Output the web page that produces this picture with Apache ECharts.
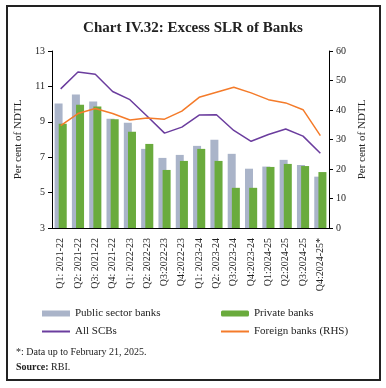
<!DOCTYPE html>
<html><head><meta charset="utf-8">
<script src="https://cdn.jsdelivr.net/npm/echarts@6/dist/echarts.min.js"></script>
<style>html,body{margin:0;padding:0;background:#fff}#c{width:386px;height:388px}</style>
</head><body><div id="c"></div>
<script>
const categories = ["Q1: 2021-22","Q2: 2021-22","Q3: 2021-22","Q4: 2021-22","Q1: 2022-23","Q2: 2022-23","Q3:2022-23","Q4:2022-23","Q1: 2023-24","Q2: 2023-24","Q3:2023-24","Q4:2023-24","Q1:2024-25","Q2:2024-25","Q3:2024-25","Q4:2024-25*"];
const publicSector = [10.03,10.54,10.14,9.17,8.95,7.47,6.96,7.13,7.64,7.98,7.19,6.35,6.47,6.85,6.56,5.9];
const privateBanks = [8.89,9.97,9.86,9.14,8.44,7.75,6.28,6.79,7.47,6.79,5.27,5.27,6.45,6.62,6.5,6.16];
const allSCBs = [10.86,11.81,11.69,10.71,10.25,9.31,8.36,8.7,9.38,9.4,8.51,7.9,8.28,8.59,8.19,7.22];
const foreignBanks = [34.7,38.8,40.5,38.8,36.6,37.3,36.9,39.6,44.3,46.0,47.7,45.8,43.5,42.4,40.1,31.3];
const leftTicks = {min:3,max:13,interval:2};
const rightTicks = {min:0,max:60,interval:10};

const F = '"Liberation Serif", "DejaVu Serif", serif';
const chart = echarts.init(document.getElementById('c'));
const txt = {fontFamily:F,fontSize:11,color:'#222'};
function leg(name, left, top, icon, h){
  return {data:[{name, icon}], left, top, padding:0, itemWidth:28, itemHeight:h, itemGap:4, textStyle:Object.assign({},txt,{fontSize:11}), selectedMode:false};
}
chart.setOption({
  animation:false,
  title:{text:'Chart IV.32: Excess SLR of Banks',left:'center',top:16,textStyle:{fontFamily:F,fontSize:15,fontWeight:'bold',color:'#222'}},
  legend:[
    leg('Public sector banks',42,308,'rect',6),
    leg('Private banks',221,308,'roundRect',6),
    leg('All SCBs',42,326,'rect',2),
    leg('Foreign banks (RHS)',221,326,'rect',2)
  ],
  grid:{left:52,right:57,top:51,bottom:160},
  xAxis:{type:'category',data:categories,
    axisLine:{lineStyle:{color:'#000',width:1}},
    axisTick:{lineStyle:{color:'#000'},length:4},
    axisLabel:{rotate:90,fontFamily:F,fontSize:10,color:'#222',margin:10,interval:0}},
  yAxis:[
    {type:'value',min:leftTicks.min,max:leftTicks.max,interval:leftTicks.interval,
     name:'Per cent of NDTL',nameLocation:'middle',nameGap:24,nameTextStyle:{fontFamily:F,fontSize:11,color:'#222'},
     axisLine:{show:true,lineStyle:{color:'#000'}},axisTick:{show:true,length:4,lineStyle:{color:'#000'}},
     splitLine:{show:false},axisLabel:{fontFamily:F,fontSize:10,color:'#222',margin:7}},
    {type:'value',min:rightTicks.min,max:rightTicks.max,interval:rightTicks.interval,position:'right',
     name:'Per cent of NDTL',nameLocation:'middle',nameGap:24,nameRotate:90,nameTextStyle:{fontFamily:F,fontSize:11,color:'#222'},
     axisLine:{show:true,lineStyle:{color:'#000'}},axisTick:{show:true,length:4,lineStyle:{color:'#000'}},
     splitLine:{show:false},axisLabel:{fontFamily:F,fontSize:10,color:'#222',margin:7}}
  ],
  series:[
    {name:'Public sector banks',type:'bar',data:publicSector,barWidth:8,barGap:'-48%',itemStyle:{color:'#aab4c9'}},
    {name:'Private banks',type:'bar',data:privateBanks,barWidth:8,itemStyle:{color:'#6aab3d'}},
    {name:'All SCBs',type:'line',data:allSCBs,symbol:'none',lineStyle:{color:'#6b3d9e',width:1.5},itemStyle:{color:'#6b3d9e'}},
    {name:'Foreign banks (RHS)',type:'line',yAxisIndex:1,data:foreignBanks,symbol:'none',lineStyle:{color:'#f47b2a',width:1.5},itemStyle:{color:'#f47b2a'}}
  ],
  graphic:[
    {type:'rect',shape:{x:7,y:6,width:373,height:374},style:{fill:'none',stroke:'#222',lineWidth:2},silent:true},
    {type:'text',left:16,top:347,style:{text:'*: Data up to February 21, 2025.',font:'10px '+F,fill:'#222'}},
    {type:'text',left:16,top:362,style:{text:'{b|Source:} RBI.',font:'10px '+F,fill:'#222',rich:{b:{fontWeight:'bold',fontFamily:F,fontSize:10,fill:'#222'}}}}
  ]
});
</script></body></html>
